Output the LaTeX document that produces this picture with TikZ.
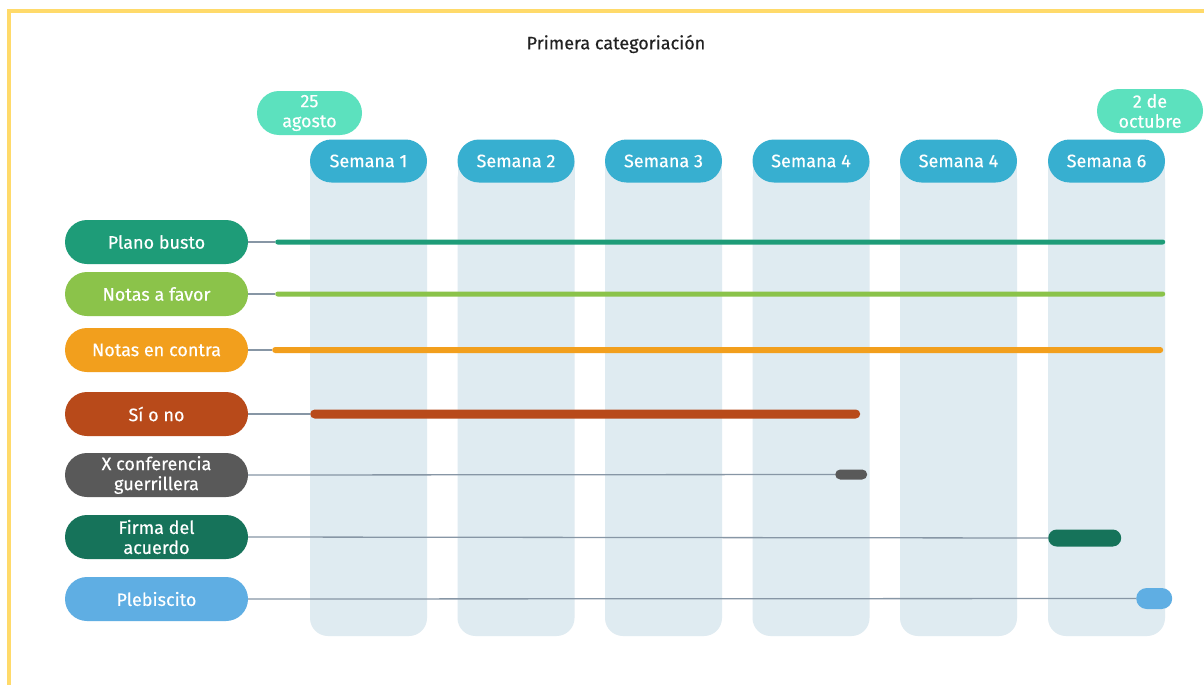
\documentclass[tikz,border=0pt]{standalone}
\usepackage{fontspec}
\setmainfont{Fira Sans}[RawFeature={embolden=0.35}]
\definecolor{framey}{HTML}{FFDA6A}
\definecolor{mint}{HTML}{5CE1BE}
\definecolor{hblue}{HTML}{37AFD0}
\definecolor{colbg}{HTML}{DFEBF1}
\definecolor{conng}{HTML}{8796A5}
\definecolor{cplano}{HTML}{1E9C78}
\definecolor{cfavor}{HTML}{8BC34A}
\definecolor{ccontra}{HTML}{F29F1D}
\definecolor{csino}{HTML}{B84A1A}
\definecolor{cxconf}{HTML}{595959}
\definecolor{cfirma}{HTML}{16735A}
\definecolor{cpleb}{HTML}{5FAEE3}
\definecolor{titlec}{HTML}{222222}
\tikzset{
  pill/.style={inner sep=0pt, minimum height=44pt, rounded corners=22pt, text=white,
    font=\fontsize{18}{20}\selectfont, align=center},
  labelpill/.style={pill, minimum width=183pt, fill=#1},
  headpill/.style={pill, minimum width=117pt, minimum height=43pt, rounded corners=21.5pt, fill=hblue},
  datepill/.style={pill, minimum width=105pt, fill=mint},
  bar/.style={inner sep=0pt, fill=#1},
  conn/.style={draw=conng, line width=1.3pt},
}
\begin{document}
\begin{tikzpicture}[x=1pt,y=-1pt]
\useasboundingbox (0,0) rectangle (1204,685);
\fill[white] (0,0) rectangle (1204,685);
% frame
\fill[framey] (7,9) rectangle (1204,13);
\fill[framey] (7,9) rectangle (11,685);
% title
\node[font=\fontsize{18}{20}\selectfont, text=titlec] (title) at (616,44) {Primera categoriación};
% columns
\foreach \x in {310,457.5,605,752.5,900,1048}{
  \fill[colbg, rounded corners=18pt] (\x,161) rectangle (\x+117,636);
  \fill[colbg] (\x,161) rectangle (\x+117,200);
}
% headers
\node[headpill] (h1) at (368.5,161) {Semana 1};
\node[headpill] (h2) at (516,161) {Semana 2};
\node[headpill] (h3) at (663.5,161) {Semana 3};
\node[headpill] (h4) at (811,161) {Semana 4};
\node[headpill] (h5) at (958.5,161) {Semana 4};
\node[headpill] (h6) at (1106.5,161) {Semana 6};
% dates
\node[datepill] (d1) at (309.5,113) {25\\agosto};
\node[datepill, minimum width=106pt] (d2) at (1150,111) {2 de\\octubre};
% labels
\node[labelpill=cplano] (l1) at (156.5,242) {Plano busto};
\node[labelpill=cfavor] (l2) at (156.5,294) {Notas a favor};
\node[labelpill=ccontra] (l3) at (156.5,350) {Notas en contra};
\node[labelpill=csino] (l4) at (156.5,414) {Sí o no};
\node[labelpill=cxconf] (l5) at (156.5,475) {X conferencia\\guerrillera};
\node[labelpill=cfirma] (l6) at (156.5,537) {Firma del\\acuerdo};
\node[labelpill=cpleb] (l7) at (156.5,599) {Plebiscito};
% bars
\node[bar=cplano, minimum width=890pt, minimum height=5pt, rounded corners=2.5pt, anchor=west] (b1) at (275,242) {};
\node[bar=cfavor, minimum width=890pt, minimum height=5pt, rounded corners=2.5pt, anchor=west] (b2) at (275,294) {};
\node[bar=ccontra, minimum width=891pt, minimum height=6pt, rounded corners=3pt, anchor=west] (b3) at (272,350) {};
\node[bar=csino, minimum width=550pt, minimum height=9pt, rounded corners=4.5pt, anchor=west] (b4) at (310,414) {};
\node[bar=cxconf, minimum width=32pt, minimum height=10pt, rounded corners=5pt, anchor=west] (b5) at (835,474.5) {};
\node[bar=cfirma, minimum width=73pt, minimum height=17pt, rounded corners=8.5pt, anchor=west] (b6) at (1048,538) {};
\node[bar=cpleb, minimum width=36pt, minimum height=21pt, rounded corners=10.5pt, anchor=west] (b7) at (1136,598.5) {};
% connectors
\draw[conn] (l1.east) -- (b1.west);
\draw[conn] (l2.east) -- (b2.west);
\draw[conn] (l3.east) -- (b3.west);
\draw[conn] (l4.east) -- (b4.west);
\draw[conn] (l5.east) -- (b5.west);
\draw[conn] (l6.east) -- (b6.west);
\draw[conn] (l7.east) -- (b7.west);
\end{tikzpicture}
\end{document}
